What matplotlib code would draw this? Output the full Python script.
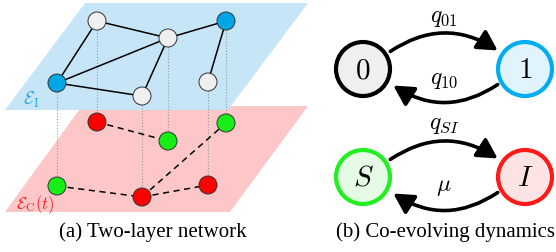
import matplotlib.pyplot as plt
from matplotlib.patches import Polygon, Circle, FancyArrowPatch

plt.rcParams['mathtext.fontset'] = 'cm'
plt.rcParams['font.family'] = ['Liberation Serif', 'DejaVu Serif']

# two-layer network (pixel coordinates of the drawing)
node_x = [97, 168, 226, 57, 142, 208]
top_y = [22, 39, 22, 84, 97, 83]
bottom_y = [123, 142, 124, 187, 198, 186]
top_state = ['0', '0', '1', '1', '0', '0']        # 0 = gray, 1 = blue
bottom_state = ['I', 'S', 'S', 'S', 'I', 'I']     # S = green, I = red
top_edges = [(0, 3), (0, 1), (1, 3), (1, 4), (1, 2), (3, 4), (2, 5)]
bottom_edges = [(0, 1), (3, 4), (4, 5), (4, 2)]

# co-evolving dynamics
state_labels = [['0', '1'], ['S', 'I']]
rate_labels = [[r'$q_{01}$', r'$q_{10}$'], [r'$q_{SI}$', r'$\mu$']]

fill = {'0': '#f0f0f0', '1': '#00a6e6', 'S': '#16ee16', 'I': '#ff0000'}
state_edge = {'0': 'black', '1': '#00aeef', 'S': '#22ee22', 'I': '#ff1a1a'}
state_fill = {'0': '#efefef', '1': '#e1f3fc', 'S': '#e6fbe6', 'I': '#fde3e3'}

fig = plt.figure(figsize=(5.56, 2.53), dpi=100)
ax = fig.add_axes([0, 0, 1, 1])
ax.set_xlim(0, 556)
ax.set_ylim(253, 0)
ax.axis('off')

# planes
ax.add_patch(Polygon([(5, 213), (230, 213), (308, 107), (82, 107)],
                     closed=True, fc='#fdc7c7', ec='none', zorder=1))
ax.add_patch(Polygon([(5, 111), (228, 111), (308, 4), (85, 4)],
                     closed=True, fc='#c6e6f8', ec='none', zorder=2))

# vertical dotted links
for x, y0, y1 in zip(node_x, top_y, bottom_y):
    ax.plot([x, x], [y0, y1], ls=':', color='#9a9a9a', lw=0.8, zorder=3)

for i, j in top_edges:
    ax.plot([node_x[i], node_x[j]], [top_y[i], top_y[j]], color='black',
            lw=1.1, zorder=4)
for i, j in bottom_edges:
    ax.plot([node_x[i], node_x[j]], [bottom_y[i], bottom_y[j]], color='black',
            lw=1.1, ls=(0, (4, 3)), zorder=4)

for x, y, s in zip(node_x, top_y, top_state):
    ax.add_patch(Circle((x, y), 9, fc=fill[s], ec='#333333', lw=0.7, zorder=5))
for x, y, s in zip(node_x, bottom_y, bottom_state):
    ax.add_patch(Circle((x, y), 9, fc=fill[s], ec='#333333', lw=0.7, zorder=5))

ax.text(23, 105, r'$\mathcal{E}_{\mathrm{I}}$', color='#29a9e0', fontsize=13, zorder=6)
ax.text(16, 209, r'$\mathcal{E}_{\mathrm{C}}(t)$', color='#ff2020', fontsize=12, zorder=6)

# state diagrams
cx = [363, 525]
cy = [70, 178]
for row, yc in enumerate(cy):
    for col, xc in enumerate(cx):
        s = state_labels[row][col]
        ax.add_patch(Circle((xc, yc), 27, fc=state_fill[s], ec=state_edge[s],
                            lw=3, zorder=5))
        ax.text(xc, yc + 1, '$%s$' % s if s in 'SI' else '$\\mathrm{%s}$' % s,
                fontsize=21, ha='center', va='center', zorder=6)
    fwd = FancyArrowPatch((388, yc - 16), (500, yc - 17),
                          connectionstyle='arc3,rad=-0.34',
                          arrowstyle='-|>,head_length=0.6,head_width=0.33',
                          mutation_scale=20, lw=2.6, color='black', zorder=4)
    back = FancyArrowPatch((500, yc + 14), (391, yc + 15),
                           connectionstyle='arc3,rad=-0.34',
                           arrowstyle='-|>,head_length=0.6,head_width=0.33',
                           mutation_scale=20, lw=2.6, color='black', zorder=4)
    ax.add_patch(fwd)
    ax.add_patch(back)
    ax.text(444, yc - 52, rate_labels[row][0], fontsize=17, ha='center', va='center')
    ax.text(444, yc + 10, rate_labels[row][1], fontsize=17, ha='center', va='center')

ax.text(153, 232, '(a) Two-layer network', fontsize=15, ha='center', va='center')
ax.text(445, 232, '(b) Co-evolving dynamics', fontsize=15, ha='center', va='center')

fig.savefig('out.png', dpi=100)
